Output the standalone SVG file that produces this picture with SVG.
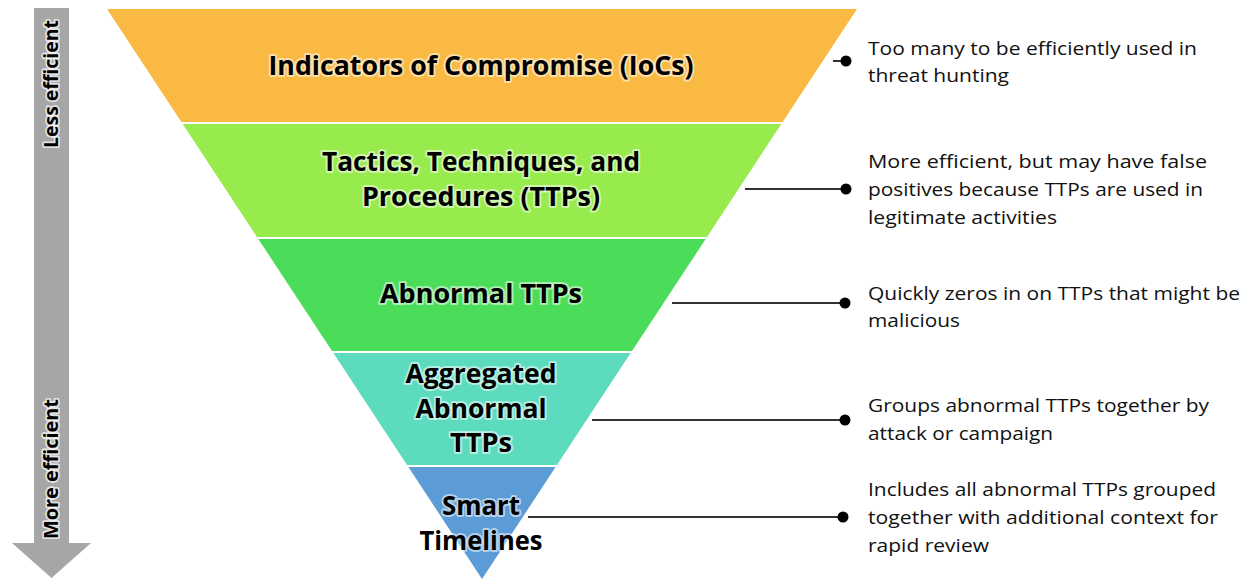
<svg xmlns="http://www.w3.org/2000/svg" width="1251" height="579" viewBox="0 0 1251 579">
  <style>
    .band-label { font-family: "Open Sans", "Liberation Sans", sans-serif; font-weight: 700; font-size: 27px; fill: #000; text-anchor: middle; stroke: #ffffff; stroke-opacity: 0.55; stroke-width: 4px; stroke-linejoin: round; paint-order: stroke; }
    .axis-label { font-family: "Open Sans", "Liberation Sans", sans-serif; font-weight: 700; font-size: 19px; fill: #000; text-anchor: middle; stroke: #ffffff; stroke-opacity: 0.7; stroke-width: 3.5px; stroke-linejoin: round; paint-order: stroke; }
    .note { font-family: "Open Sans", "Liberation Sans", sans-serif; font-size: 19px; fill: #111; }
    .leader { stroke: #333; stroke-width: 2; fill: none; }
    .dot { fill: #000; }
  </style>

  <!-- efficiency axis: grey down arrow -->
  <g id="efficiency-axis">
    <polygon points="34,8 69,8 69,543 91,543 51.5,578 12,543 34,543" fill="#a6a6a6"/>
    <text class="axis-label" transform="translate(58,84) rotate(-90)" textLength="128" lengthAdjust="spacingAndGlyphs">Less efficient</text>
    <text class="axis-label" transform="translate(58,469) rotate(-90)" textLength="140" lengthAdjust="spacingAndGlyphs">More efficient</text>
  </g>

  <!-- inverted pyramid bands -->
  <g id="band-iocs">
    <polygon points="107,9 857,9 782.6,122 181.4,122" fill="#f9b942"/>
    <text class="band-label" x="481" y="75" textLength="425" lengthAdjust="spacingAndGlyphs">Indicators of Compromise (IoCs)</text>
  </g>
  <g id="band-ttps">
    <polygon points="182.7,124 781.3,124 707,237 257,237" fill="#98eb4c"/>
    <text class="band-label" x="481" y="171" textLength="318" lengthAdjust="spacingAndGlyphs">Tactics, Techniques, and</text>
    <text class="band-label" x="481" y="206" textLength="238" lengthAdjust="spacingAndGlyphs">Procedures (TTPs)</text>
  </g>
  <g id="band-abnormal">
    <polygon points="258.3,239 705.7,239 632,351 332,351" fill="#4bdc5a"/>
    <text class="band-label" x="481" y="303" textLength="202" lengthAdjust="spacingAndGlyphs">Abnormal TTPs</text>
  </g>
  <g id="band-aggregated">
    <polygon points="333.4,353 630.6,353 557,465 407,465" fill="#5ddbbf"/>
    <text class="band-label" x="481" y="383" textLength="151" lengthAdjust="spacingAndGlyphs">Aggregated</text>
    <text class="band-label" x="481" y="418" textLength="131" lengthAdjust="spacingAndGlyphs">Abnormal</text>
    <text class="band-label" x="481" y="452" textLength="62" lengthAdjust="spacingAndGlyphs">TTPs</text>
  </g>
  <g id="band-timelines">
    <polygon points="408.4,467 555.6,467 482,579" fill="#5b9bd6"/>
    <text class="band-label" x="481" y="515" textLength="78" lengthAdjust="spacingAndGlyphs">Smart</text>
    <text class="band-label" x="481" y="550" textLength="123" lengthAdjust="spacingAndGlyphs">Timelines</text>
  </g>

  <!-- leader lines from bands to descriptions -->
  <g id="connectors">
    <line class="leader" x1="833" y1="61" x2="846" y2="61"/>
    <circle class="dot" cx="846" cy="61" r="5.5"/>
    <line class="leader" x1="745" y1="189" x2="846" y2="189"/>
    <circle class="dot" cx="846" cy="189" r="5.5"/>
    <line class="leader" x1="672" y1="303" x2="845" y2="303"/>
    <circle class="dot" cx="845" cy="303" r="5.5"/>
    <line class="leader" x1="592" y1="420" x2="845" y2="420"/>
    <circle class="dot" cx="845" cy="420" r="5.5"/>
    <line class="leader" x1="528" y1="517" x2="843" y2="517"/>
    <circle class="dot" cx="843" cy="517" r="5.5"/>
  </g>

  <!-- descriptions -->
  <g id="note-iocs">
    <text class="note" x="868" y="55" textLength="329" lengthAdjust="spacingAndGlyphs">Too many to be efficiently used in</text>
    <text class="note" x="868" y="82" textLength="141" lengthAdjust="spacingAndGlyphs">threat hunting</text>
  </g>
  <g id="note-ttps">
    <text class="note" x="868" y="168" textLength="339" lengthAdjust="spacingAndGlyphs">More efficient,  but may have false</text>
    <text class="note" x="868" y="196" textLength="335" lengthAdjust="spacingAndGlyphs">positives because TTPs are used in</text>
    <text class="note" x="868" y="224" textLength="189" lengthAdjust="spacingAndGlyphs">legitimate activities</text>
  </g>
  <g id="note-abnormal">
    <text class="note" x="868" y="300" textLength="372" lengthAdjust="spacingAndGlyphs">Quickly zeros in on TTPs that might be</text>
    <text class="note" x="868" y="327" textLength="92" lengthAdjust="spacingAndGlyphs">malicious</text>
  </g>
  <g id="note-aggregated">
    <text class="note" x="868" y="412" textLength="341" lengthAdjust="spacingAndGlyphs">Groups abnormal TTPs together by</text>
    <text class="note" x="868" y="440" textLength="185" lengthAdjust="spacingAndGlyphs">attack or campaign</text>
  </g>
  <g id="note-timelines">
    <text class="note" x="868" y="496" textLength="348" lengthAdjust="spacingAndGlyphs">Includes all abnormal TTPs grouped</text>
    <text class="note" x="868" y="524" textLength="350" lengthAdjust="spacingAndGlyphs">together with additional context for</text>
    <text class="note" x="868" y="552" textLength="121" lengthAdjust="spacingAndGlyphs">rapid review</text>
  </g>
</svg>
